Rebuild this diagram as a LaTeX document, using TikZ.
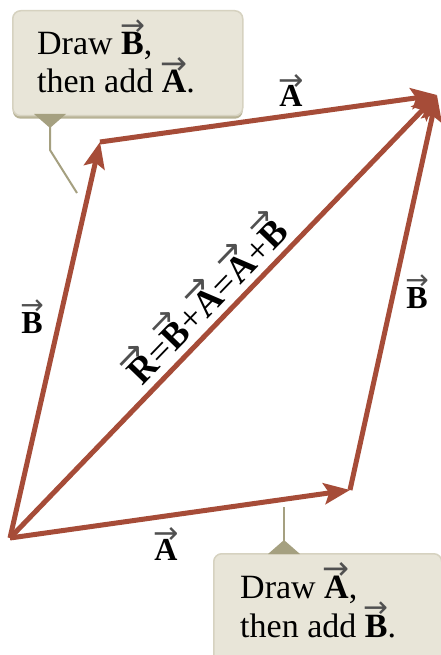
\documentclass[tikz,border=0pt]{standalone}
\usepackage{graphicx}
\usepackage{fontspec}
\setmainfont{Liberation Serif}
\newfontfamily\arrowfont{DejaVu Sans}
\usetikzlibrary{arrows.meta,shadows}
\definecolor{vecred}{RGB}{166,76,56}
\definecolor{boxfill}{RGB}{232,229,216}
\definecolor{boxedge}{RGB}{214,210,192}
\definecolor{boxshadow}{RGB}{184,179,150}
\definecolor{ptrcol}{RGB}{165,160,128}
\definecolor{arrgray}{RGB}{80,80,80}
\newsavebox{\vvletter}
\newsavebox{\vvarrow}
\newlength{\vvwd}
\newcommand{\vv}[1]{%
  \sbox{\vvletter}{\bfseries #1}%
  \setlength{\vvwd}{\wd\vvletter}%
  \sbox{\vvarrow}{\textcolor{arrgray}{\resizebox{1.1\vvwd}{!}{\arrowfont →}}}%
  \leavevmode\rlap{\hbox to\vvwd{\hss\raisebox{\dimexpr\ht\vvletter+0.37em-\ht\vvarrow\relax}{\usebox{\vvarrow}}\hss}}%
  \usebox{\vvletter}}
\tikzset{
  vec/.style={draw=vecred, line width=5pt, -{Stealth[length=26pt,width=21pt,inset=5pt]}},
  cbox/.style={draw=boxedge, line width=1.5pt, fill=boxfill, rounded corners=8pt, inner sep=0pt,
    drop shadow={shadow xshift=0pt, shadow yshift=-3pt, fill=boxshadow, opacity=1}},
  ptrfill/.style={fill=ptrcol},
  ptrline/.style={draw=ptrcol, line width=2pt},
  boxtext/.style={inner sep=0pt, font=\fontsize{34}{38}\selectfont},
  veclabel/.style={inner sep=0pt, font=\fontsize{32}{36}\selectfont},
  diaglabel/.style={inner sep=0pt, font=\fontsize{37}{40}\selectfont, rotate=46}
}
\begin{document}
\begin{tikzpicture}[x=1pt,y=-1pt]
\clip (0,0) rectangle (441,655);
\fill[white] (0,0) rectangle (441,655);
% vector end points
\coordinate (O) at (10,538);
\coordinate (P) at (350,490);
\coordinate (Q) at (100,142);
\coordinate (R) at (437,95);
% callout 1
\node[cbox, minimum width=230pt, minimum height=105pt, anchor=north west] (box1) at (12,10) {};
\coordinate (p1a) at (50,116);
\coordinate (p1b) at (50,150);
\coordinate (p1c) at (77,193);
\fill[ptrfill] (34,114) -- (66,114) -- (50,128) -- cycle;
\draw[ptrline] (p1a) -- (p1b) -- (p1c);
\node[boxtext, anchor=base west] (t1a) at (37,55) {Draw \vv{B},};
\node[boxtext, anchor=base west] (t1b) at (37,93) {then add \vv{A}.};
% callout 2
\node[cbox, minimum width=228pt, minimum height=120pt, anchor=north west] (box2) at (213,553) {};
\coordinate (p2a) at (284,507);
\coordinate (p2b) at (284,550);
\fill[ptrfill] (268,554) -- (300,554) -- (284,540) -- cycle;
\draw[ptrline] (p2a) -- (p2b);
\node[boxtext, anchor=base west] (t2a) at (240,598) {Draw \vv{A},};
\node[boxtext, anchor=base west] (t2b) at (240,637) {then add \vv{B}.};
% vectors
\draw[vec] (O) -- (R);
\draw[vec] (O) -- (P);
\draw[vec] (P) -- (R);
\draw[vec] (O) -- (Q);
\draw[vec] (Q) -- (R);
% labels
\node[veclabel, anchor=base] (lAtop) at (291,107) {\vv{A}};
\node[veclabel, anchor=base] (lBleft) at (32,333) {\vv{B}};
\node[veclabel, anchor=base] (lBright) at (417,308) {\vv{B}};
\node[veclabel, anchor=base] (lAbot) at (166,560) {\vv{A}};
\node[diaglabel] (lR) at (203,297) {\vv{R}=\vv{B}+\vv{A}=\vv{A}+\vv{B}};
\end{tikzpicture}
\end{document}
